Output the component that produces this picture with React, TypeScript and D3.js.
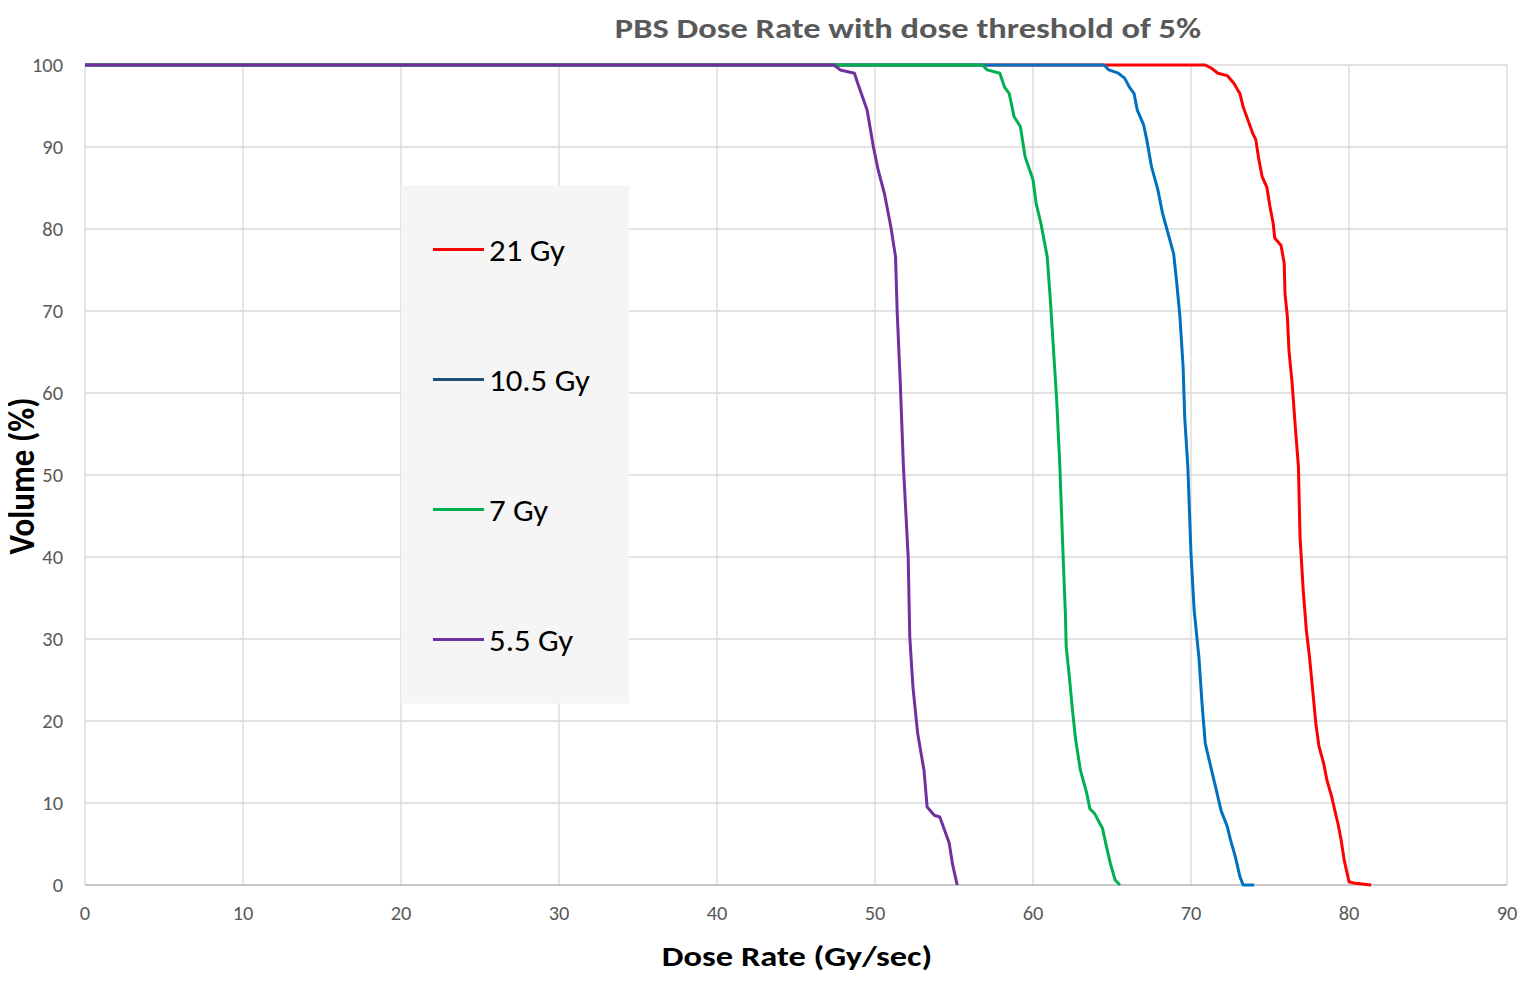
import * as React from "react"
import * as d3 from "d3"

// dose rate (Gy/sec) vs volume (%)
const red21: [number, number][] = [
    [0, 100], [70.9, 100], [71.3, 99.6], [71.7, 99.0], [72.3, 98.7], [72.7, 97.8], [73.1, 96.5],
    [73.3, 94.9], [73.6, 93.3], [73.9, 91.7], [74.1, 90.9], [74.3, 88.4], [74.5, 86.4],
    [74.8, 85.1], [75.0, 82.7], [75.2, 80.7], [75.3, 78.9], [75.7, 78.0], [75.9, 75.8],
    [75.95, 72.1], [76.1, 69.3], [76.2, 65.2], [76.4, 61.2], [76.6, 55.9], [76.8, 51],
    [76.9, 42.5], [77.1, 36], [77.3, 31.1], [77.5, 27.8], [77.7, 23.8], [77.9, 19.7],
    [78.1, 16.9], [78.4, 14.8], [78.6, 12.8], [78.9, 10.8], [79.1, 9.1], [79.3, 7.5],
    [79.5, 5.5], [79.7, 3.0], [80.0, 0.4], [80.4, 0.2], [81.4, 0],
]
const blue105: [number, number][] = [
    [0, 100], [64.5, 100], [64.8, 99.4], [65.4, 99.0], [65.8, 98.4], [66.1, 97.3], [66.4, 96.5],
    [66.6, 94.5], [67.0, 92.7], [67.2, 90.9], [67.5, 87.6], [67.9, 84.8], [68.2, 81.9],
    [68.6, 79.1], [68.9, 77.0], [69.1, 73.4], [69.3, 69.3], [69.5, 63.2], [69.6, 57.1],
    [69.8, 51], [70.0, 40.4], [70.2, 33.5], [70.5, 27.8], [70.7, 22.1], [70.9, 17.3],
    [71.3, 14], [71.6, 11.6], [71.9, 9.1], [72.3, 7.1], [72.5, 5.5], [72.8, 3.5],
    [73.1, 1.0], [73.3, 0], [74.0, 0],
]
const green7: [number, number][] = [
    [0, 100], [56.8, 100], [57.1, 99.4], [57.9, 99.0], [58.2, 97.3], [58.5, 96.5], [58.8, 93.7],
    [59.2, 92.5], [59.5, 88.8], [60.0, 86.0], [60.2, 83.1], [60.5, 80.7], [60.9, 76.6],
    [61.1, 71.3], [61.3, 65.2], [61.5, 59.1], [61.7, 51], [61.9, 40.4], [62.05, 33.1],
    [62.1, 29.1], [62.3, 25.4], [62.5, 21.3], [62.7, 17.7], [63.0, 14], [63.4, 11.2],
    [63.6, 9.3], [63.9, 8.7], [64.4, 6.9], [64.6, 5.1], [64.9, 2.6], [65.2, 0.6], [65.5, 0],
]
const purple55: [number, number][] = [
    [0, 100], [47.4, 100], [47.8, 99.4], [48.7, 99.0], [48.9, 97.8], [49.5, 94.5], [49.9, 90.0],
    [50.2, 87.2], [50.6, 84.3], [51.0, 80.3], [51.3, 76.6], [51.4, 70.1], [51.6, 61.2],
    [51.8, 51], [52.1, 40], [52.2, 30.3], [52.4, 24.2], [52.7, 18.5], [53.1, 14], [53.3, 9.5],
    [53.75, 8.5], [54.1, 8.3], [54.4, 6.7], [54.7, 5.1], [54.9, 2.6], [55.2, 0],
]

const seriesNames = ["21 Gy", "10.5 Gy", "7 Gy", "5.5 Gy"]
const seriesData = [red21, blue105, green7, purple55]
const seriesColors = ["#ff0000", "#0070c0", "#00b050", "#7030a0"]
const legendColors = ["#ff0000", "#1f4e79", "#00b050", "#7030a0"]

const xTicks = [0, 10, 20, 30, 40, 50, 60, 70, 80, 90]
const yTicks = [0, 10, 20, 30, 40, 50, 60, 70, 80, 90, 100]

const font = "Carlito, Lato, 'Open Sans', sans-serif"

export default function App(): JSX.Element {
    const margin = { left: 85, top: 65, right: 28, bottom: 101 }
    const W = 1535
    const H = 986
    const innerW = W - margin.left - margin.right
    const innerH = H - margin.top - margin.bottom

    const x = d3.scaleLinear().domain([0, 90]).range([0, innerW])
    const y = d3.scaleLinear().domain([0, 100]).range([innerH, 0])

    const line = d3.line<[number, number]>()
        .x(d => x(d[0]))
        .y(d => y(d[1]))

    // the source image is stretched sideways a bit, so some text gets a horizontal stretch
    const st = (tx: number, ty: number, sx: number): string =>
        "translate(" + tx + "," + ty + ") scale(" + sx + ",1)"

    const legendTop = y(85.3)

    return (
        <svg width={W} height={H} style={{ display: "block", margin: "-8px" }} fontFamily={font}>
            <rect width={W} height={H} fill="#ffffff" />
            <text transform={st(908, 38, 1.23)} textAnchor="middle" fontSize={28} fontWeight="bold" fill="#595959">
                PBS Dose Rate with dose threshold of 5%
            </text>
            <g transform={"translate(" + margin.left + "," + margin.top + ")"}>
                {xTicks.map(t => (
                    <line key={"gx" + t} x1={x(t)} x2={x(t)} y1={0} y2={innerH} stroke="#d9d9d9" strokeWidth={1.3} />
                ))}
                {yTicks.map(t => (
                    <line key={"gy" + t} x1={0} x2={innerW} y1={y(t)} y2={y(t)} stroke="#d9d9d9" strokeWidth={1.3} />
                ))}
                <line x1={0} x2={innerW} y1={innerH} y2={innerH} stroke="#bfbfbf" strokeWidth={1.6} />
                {xTicks.map(t => (
                    <text key={"tx" + t} transform={st(x(t), innerH + 35, 1.02)} textAnchor="middle" fontSize={20} fill="#595959">{t}</text>
                ))}
                {yTicks.map(t => (
                    <text key={"ty" + t} transform={st(-22, y(t) + 6.5, 1.02)} textAnchor="end" fontSize={20} fill="#595959">{t}</text>
                ))}

                {/* legend box */}
                <rect x={x(20)} y={legendTop} width={228} height={518} fill="#f5f5f5" />

                {seriesData.map((s, i) => (
                    <path key={"s" + i} d={line(s) || ""} fill="none" stroke={seriesColors[i]}
                        strokeWidth={3} strokeLinejoin="round" />
                ))}

                {seriesNames.map((n, i) => (
                    <g key={"l" + i} transform={"translate(" + (x(20) + 32) + "," + (legendTop + 64 + i * 130) + ")"}>
                        <line x1={0} x2={51} y1={0} y2={0} stroke={legendColors[i]} strokeWidth={3} />
                        <text transform={st(56, 11, 1.06)} fontSize={31} fill="#000000">{n}</text>
                    </g>
                ))}
            </g>
            <text transform={st(797, 966, 1.23)} textAnchor="middle" fontSize={28} fontWeight="bold" fill="#000000">
                Dose Rate (Gy/sec)
            </text>
            <text transform={"translate(34,476) scale(1.1,1) rotate(-90)"} textAnchor="middle" fontSize={33}
                fontWeight="bold" fill="#000000">
                Volume (%)
            </text>
        </svg>
    )
}
